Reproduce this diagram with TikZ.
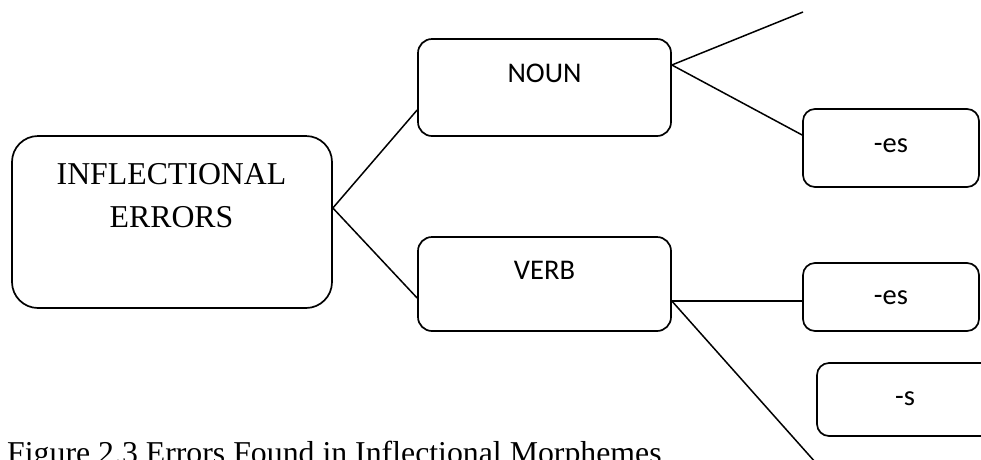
\documentclass[tikz,border=0pt]{standalone}
\usepackage{fontspec}
\setmainfont{Liberation Serif}
\newfontfamily\calib{Carlito}
\begin{document}
\begin{tikzpicture}[x=1pt,y=-1pt,
  box/.style={draw,line width=1.7pt,rounded corners=14pt,inner sep=0pt},
  bigbox/.style={box,rounded corners=26pt},
  serif/.style={font=\fontsize{31.8}{38}\selectfont,inner sep=0pt,anchor=base},
  sans/.style={font=\calib\fontsize{28.5}{34}\selectfont,inner sep=0pt,anchor=base},
  link/.style={line width=1.5pt}]
\useasboundingbox (0,0) rectangle (981,459);
\clip (0,0) rectangle (981,459);
% boxes
\node[bigbox,minimum width=320pt,minimum height=172pt] (main) at (172,222) {};
\node[box,minimum width=253pt,minimum height=97pt] (noun) at (544.5,87.5) {};
\node[box,minimum width=253pt,minimum height=94pt] (verb) at (544.5,284) {};
\node[box,rounded corners=12pt,minimum width=176pt,minimum height=78pt] (es1) at (891,148) {};
\node[box,rounded corners=12pt,minimum width=176pt,minimum height=68pt] (es2) at (891,297) {};
\node[box,rounded corners=12pt,minimum width=176pt,minimum height=73pt] (s) at (905,399.5) {};
% texts
\node[serif] (t1) at (171.5,184) {INFLECTIONAL};
\node[serif] (t2) at (171.5,227) {ERRORS};
\node[sans] (tn) at (544.5,82) {NOUN};
\node[sans] (tv) at (544.5,279) {VERB};
\node[sans] (te1) at (891,152) {-es};
\node[sans] (te2) at (891,304) {-es};
\node[sans] (ts) at (905,405) {-s};
\node[serif,anchor=base west] (cap) at (7,463) {Figure 2.3 Errors Found in Inflectional Morphemes};
% free ends
\coordinate (topend) at (803,12);
\coordinate (botend) at (816,463);
% connectors
\draw[link] ([yshift=14pt]main.east) -- ([yshift=-22.5pt]noun.west);
\draw[link] ([yshift=14pt]main.east) -- ([yshift=-14pt]verb.west);
\draw[link] ([yshift=22.5pt]noun.east) -- (topend);
\draw[link] ([yshift=22.5pt]noun.east) -- ([yshift=13pt]es1.west);
\draw[link] ([yshift=-17pt]verb.east) -- ([yshift=-4pt]es2.west);
\draw[link] ([yshift=-17pt]verb.east) -- (botend);
\end{tikzpicture}
\end{document}
